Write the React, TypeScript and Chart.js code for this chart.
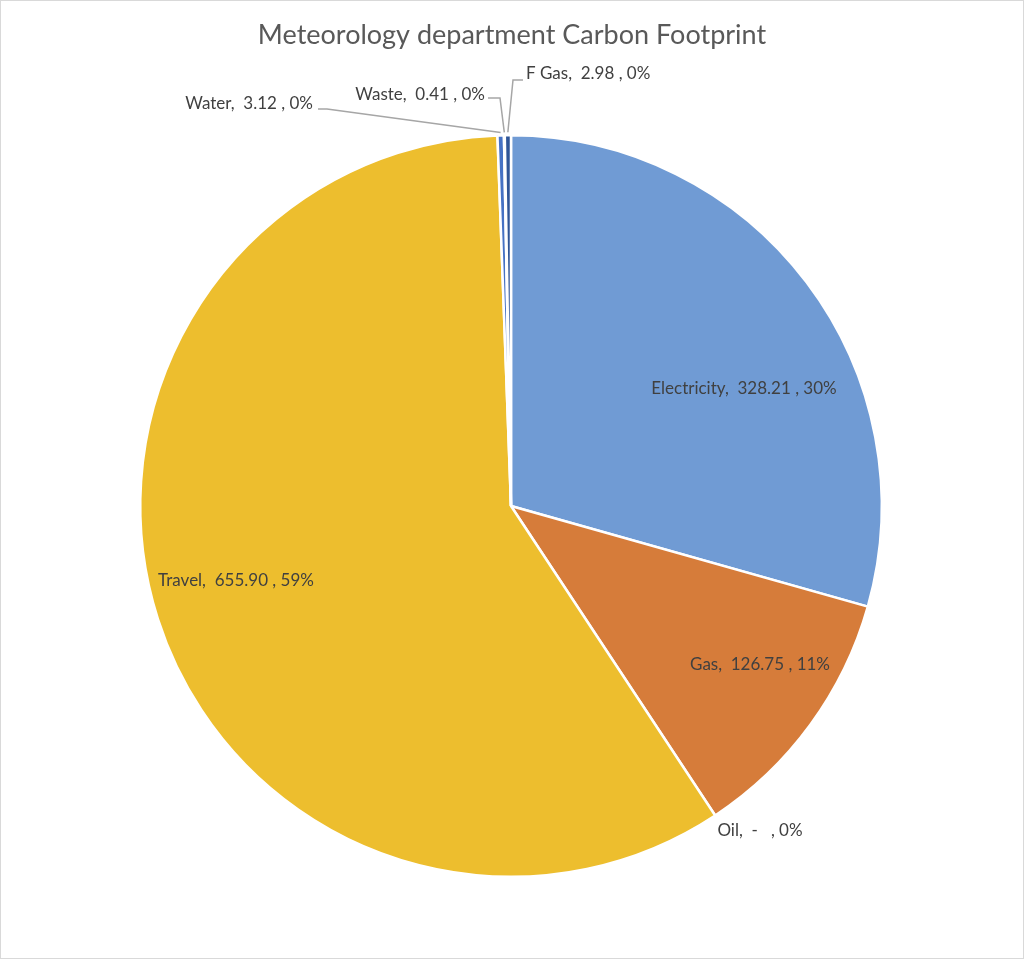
import React, { useEffect, useRef } from "react";
import { Chart, registerables } from "chart.js";

Chart.register(...registerables);

const categories = ["Electricity", "Gas", "Oil", "Travel", "Water", "Waste", "F Gas"];
const values = [328.21, 126.75, 0, 655.9, 3.12, 0.41, 2.98];
const percentLabels = ["30%", "11%", "0%", "59%", "0%", "0%", "0%"];
const sliceColors = ["#709BD4", "#D67C3A", "#A5A5A5", "#EDBE2E", "#4672C4", "#70AD47", "#2F5597"];
const chartTitle = "Meteorology department Carbon Footprint";

type LabelPos = { x: number; y: number; align: CanvasTextAlign; elbow?: [number, number]; start?: [number, number] };
const labelLayout: LabelPos[] = [
  { x: 744, y: 389, align: "center" },
  { x: 760, y: 665, align: "center" },
  { x: 760, y: 831, align: "center" },
  { x: 236, y: 581, align: "center" },
  { x: 313, y: 104, align: "right", start: [318, 109], elbow: [327, 109] },
  { x: 485, y: 95, align: "right", start: [488, 98], elbow: [500, 98] },
  { x: 526, y: 74, align: "left", start: [523, 80], elbow: [513, 80] },
];

const FONT = "Lato, 'Open Sans', sans-serif";

function fmtValue(v: number) {
  return v === 0 ? "-  " : v.toFixed(2);
}

const decorPlugin = {
  id: "decor",
  beforeDraw(chart: any) {
    const { ctx, width, height } = chart;
    ctx.save();
    ctx.fillStyle = "#FFFFFF";
    ctx.fillRect(0, 0, width, height);
    ctx.strokeStyle = "#D9D9D9";
    ctx.lineWidth = 1;
    ctx.strokeRect(0.5, 0.5, width - 1, height - 1);
    ctx.restore();
  },
  afterDraw(chart: any) {
    const { ctx } = chart;
    ctx.save();
    ctx.fillStyle = "#595959";
    ctx.font = `27px ${FONT}`;
    ctx.textAlign = "center";
    ctx.textBaseline = "middle";
    ctx.fillText(chartTitle, 512, 35);

    const meta = chart.getDatasetMeta(0);
    ctx.font = `17px ${FONT}`;
    meta.data.forEach((arc: any, i: number) => {
      const lp = labelLayout[i];
      const text = `${categories[i]},  ${fmtValue(values[i])} , ${percentLabels[i]}`;
      if (lp.elbow && lp.start) {
        const mid = (arc.startAngle + arc.endAngle) / 2;
        const r = arc.outerRadius + 3;
        const ex = arc.x + Math.cos(mid) * r;
        const ey = arc.y + Math.sin(mid) * r;
        ctx.strokeStyle = "#A6A6A6";
        ctx.lineWidth = 1.5;
        ctx.beginPath();
        ctx.moveTo(lp.start[0], lp.start[1]);
        ctx.lineTo(lp.elbow[0], lp.elbow[1]);
        ctx.lineTo(ex, ey);
        ctx.stroke();
      }
      ctx.fillStyle = "#404040";
      ctx.textAlign = lp.align;
      ctx.textBaseline = "middle";
      ctx.fillText(text, lp.x, lp.y);
    });
    ctx.restore();
  },
};

export default function App() {
  const ref = useRef<HTMLCanvasElement | null>(null);
  useEffect(() => {
    document.body.style.margin = "0";
    const canvas = ref.current!;
    const chart = new Chart(canvas, {
      type: "pie",
      data: {
        labels: categories,
        datasets: [
          {
            data: values,
            backgroundColor: sliceColors,
            borderColor: "#FFFFFF",
            borderWidth: 2.5,
          },
        ],
      },
      options: {
        responsive: false,
        animation: false,
        layout: { padding: { top: 134, bottom: 81, left: 139, right: 141 } },
        plugins: {
          legend: { display: false },
          title: { display: false },
          tooltip: { enabled: false },
        },
      },
      plugins: [decorPlugin],
    });
    return () => chart.destroy();
  }, []);
  return <canvas ref={ref} width={1024} height={959} style={{ display: "block" }} />;
}
